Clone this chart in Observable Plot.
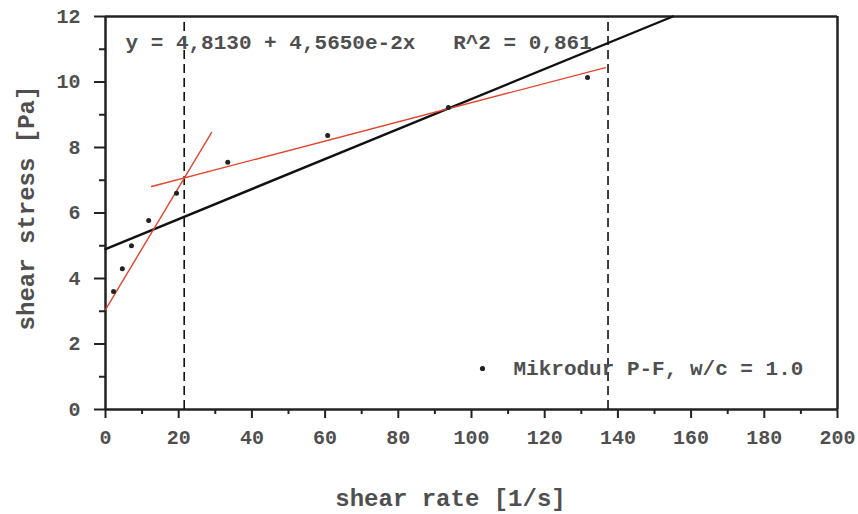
<!DOCTYPE html>
<html>
<head>
<meta charset="utf-8">
<script src="https://cdn.jsdelivr.net/npm/d3@7"></script>
<script src="https://cdn.jsdelivr.net/npm/@observablehq/plot@0.6"></script>
<style>
  html, body { margin: 0; padding: 0; background: #fff; }
  #chart { width: 858px; height: 514px; }
</style>
</head>
<body>
<div id="chart"></div>
<script>
// Measured points: shear rate [1/s] vs shear stress [Pa]
const shearRate   = [2.2, 4.6, 7.1, 11.8, 19.4, 33.4, 60.7, 93.7, 131.7];
const shearStress = [3.6, 4.3, 5.0, 5.77, 6.6, 7.55, 8.37, 9.22, 10.14];

// Linear regression (black), drawn until it meets the top border
const regX = [0, 155.0];
const regY = [4.9, 12.0];

// Hand-drawn red fit lines
const steepX = [0, 29.0];
const steepY = [3.05, 8.46];
const flatX  = [12.6, 136.6];
const flatY  = [6.81, 10.44];

// Vertical dashed markers
const dashedX = [21.5, 137.3];

// Ticks
const xMajor = [0, 20, 40, 60, 80, 100, 120, 140, 160, 180, 200];
const xMinor = [10, 30, 50, 70, 90, 110, 130, 150, 170, 190];
const yMajor = [0, 2, 4, 6, 8, 10, 12];
const yMinor = [1, 3, 5, 7, 9, 11];

const equationText = "y = 4,8130 + 4,5650e-2x\u00a0\u00a0\u00a0R^2 = 0,861";
const legendText = "Mikrodur P-F, w/c = 1.0";
const xLabel = "shear rate [1/s]";
const yLabel = "shear stress [Pa]";

const points = shearRate.map((x, i) => ({x, y: shearStress[i]}));
const toPts = (xs, ys) => xs.map((x, i) => ({x, y: ys[i]}));

const ink = "#222";
const textInk = "#4f4f4f";
const red = "#e2452e";

const chart = Plot.plot({
  width: 858,
  height: 514,
  marginLeft: 105,
  marginRight: 21,
  marginTop: 16,
  marginBottom: 105,
  x: {domain: [0, 200]},
  y: {domain: [0, 12]},
  style: {fontFamily: "'Liberation Mono', 'DejaVu Sans Mono', monospace", fontSize: "20px", color: textInk, background: "white"},
  marks: [
    // axes ticks
    Plot.axisX({ticks: xMajor, tickSize: 9, tickPadding: 11, fontSize: 20, fontWeight: "bold", label: null, stroke: ink, strokeWidth: 2, fill: textInk}),
    Plot.axisX({ticks: xMinor, tickSize: 5, text: null, label: null, stroke: ink, strokeWidth: 2}),
    Plot.axisY({ticks: yMajor, tickSize: 11, tickPadding: 14, fontSize: 20, fontWeight: "bold", label: null, stroke: ink, strokeWidth: 2, fill: textInk}),
    Plot.axisY({ticks: yMinor, tickSize: 6, text: null, label: null, stroke: ink, strokeWidth: 2}),
    // frame lines
    Plot.ruleY([0], {stroke: ink, strokeWidth: 2.5}),
    Plot.ruleX([0], {stroke: ink, strokeWidth: 2.5}),
    Plot.ruleY([12], {stroke: ink, strokeWidth: 2.5}),
    Plot.ruleX([200], {stroke: ink, strokeWidth: 2.5}),
    // dashed verticals
    Plot.ruleX(dashedX, {y1: 0, y2: 12, stroke: "#111", strokeWidth: 1.6, strokeDasharray: "9,5"}),
    // fits
    Plot.line(toPts(regX, regY), {x: "x", y: "y", stroke: "#111", strokeWidth: 2.4}),
    Plot.line(toPts(steepX, steepY), {x: "x", y: "y", stroke: red, strokeWidth: 1.4}),
    Plot.line(toPts(flatX, flatY), {x: "x", y: "y", stroke: red, strokeWidth: 1.4}),
    // points
    Plot.dot(points, {x: "x", y: "y", r: 2.5, fill: "#222", stroke: "none"}),
    // equation annotation
    Plot.text([equationText], {frameAnchor: "top-left", dx: 20, dy: 26, textAnchor: "start", lineAnchor: "middle", fontSize: 21, fontWeight: "bold", fill: textInk}),
    // legend
    Plot.dot([legendText], {frameAnchor: "bottom-left", dx: 377, dy: -41, r: 2.6, fill: "#222", stroke: "none"}),
    Plot.text([legendText], {frameAnchor: "bottom-left", dx: 408, dy: -41, textAnchor: "start", lineAnchor: "middle", fontSize: 21, fontWeight: "bold", fill: textInk}),
    // axis labels
    Plot.text([xLabel], {frameAnchor: "bottom", dx: -21, dy: 89, textAnchor: "middle", lineAnchor: "middle", fontSize: 24, fontWeight: "bold", fill: textInk}),
    Plot.text([yLabel], {frameAnchor: "left", dx: -79, dy: -5, rotate: -90, textAnchor: "middle", lineAnchor: "middle", fontSize: 24, fontWeight: "bold", fill: textInk})
  ]
});
document.getElementById("chart").appendChild(chart);
</script>
</body>
</html>
